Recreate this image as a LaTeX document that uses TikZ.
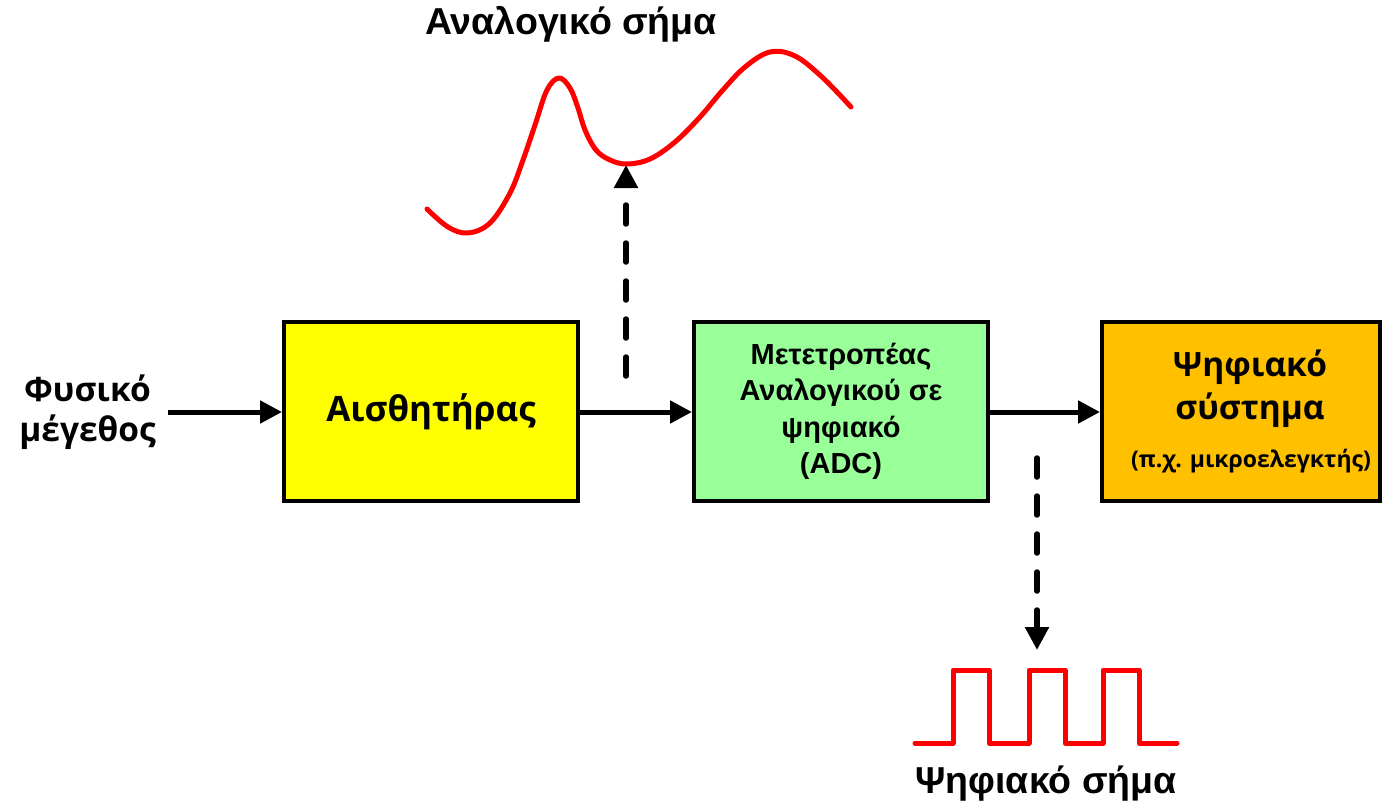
\documentclass[tikz,border=0pt]{standalone}
\usepackage{fontspec}
\setmainfont{Liberation Sans}
\newfontfamily\hum{Open Sans}
\usetikzlibrary{arrows.meta}
\definecolor{boxyellow}{RGB}{255,255,0}
\definecolor{boxgreen}{RGB}{153,255,153}
\definecolor{boxorange}{RGB}{255,192,0}
\definecolor{sigred}{RGB}{255,0,0}
\begin{document}
\begin{tikzpicture}[x=1pt,y=-1pt,
  blk/.style={draw=black,line width=4pt,minimum width=294pt,minimum height=179pt,inner sep=0pt,align=center},
  arr/.style={line width=5pt,-{Triangle[length=22pt,width=22pt]}},
  darr/.style={line width=5.5pt,line cap=round,dash pattern=on 19pt off 19pt,-{Triangle[length=23pt,width=23pt,line cap=butt]}},
  sig/.style={draw=sigred,line width=5pt,line cap=round,line join=round},
  lbl/.style={font=\hum\bfseries\fontsize{35}{40}\selectfont,align=center,inner sep=0pt},
  ttl/.style={font=\bfseries\fontsize{37.5}{40}\selectfont,inner sep=0pt}]
\useasboundingbox (0,0) rectangle (1384,808);
% boxes
\node[blk,fill=boxyellow,lbl,draw=black,line width=4pt,minimum width=294pt,minimum height=179pt] (sensor) at (431,411.5) {Αισθητήρας};
\node[blk,fill=boxgreen,font=\bfseries\fontsize{29}{36.5}\selectfont] (adc) at (841,411.5)
  {Μετετροπέας\\Αναλογικού σε\\ψηφιακό\\(ADC)};
\node[blk,fill=boxorange,minimum width=278pt] (dig) at (1241,411.5) {};
\node[lbl,font=\hum\bfseries\fontsize{33.5}{43}\selectfont] (digt) at (1250,389) {Ψηφιακό\\σύστημα};
\node[lbl,font=\hum\bfseries\fontsize{23}{24}\selectfont] (digs) at (1251,461) {(π.χ. μικροελεγκτής)};
% input label
\node[lbl,anchor=east,font=\hum\bfseries\fontsize{33.5}{40}\selectfont] (phys) at (156,412) {Φυσικό\\μέγεθος};
% titles
\node[ttl] (atitle) at (571,24) {Αναλογικό σήμα};
\node[ttl] (dtitle) at (1046,784) {Ψηφιακό σήμα};
% connectors
\coordinate (pin) at (168,412);
\draw[arr] (pin) -- (sensor.west |- pin);
\draw[arr] (sensor.east |- pin) -- (adc.west |- pin);
\draw[arr] (adc.east |- pin) -- (dig.west |- pin);
% analog signal
\draw[sig] plot[smooth,tension=0.6] coordinates {(427,209) (448,227) (468,233) (490,223) (510,193) (523,160) (535,125) (547,90) (559,78) (570,88) (578,108) (585,130) (596,150) (610,160) (627,164) (650,159) (675,142) (700,117) (722,91) (745,67) (770,52) (795,56) (822,77) (851,107)};
\coordinate (up1) at (626,376);
\coordinate (up2) at (626,165);
\draw[darr] (up1) -- (up2);
% digital signal
\draw[sig] (915,743) -- (953,743) -- (953,670) -- (989,670) -- (989,743) -- (1029,743) -- (1029,670) -- (1065,670) -- (1065,743) -- (1103,743) -- (1103,670) -- (1139,670) -- (1139,743) -- (1177,743);
\coordinate (dn1) at (1037,458);
\coordinate (dn2) at (1037,650);
\draw[darr] (dn1) -- (dn2);
\end{tikzpicture}
\end{document}
